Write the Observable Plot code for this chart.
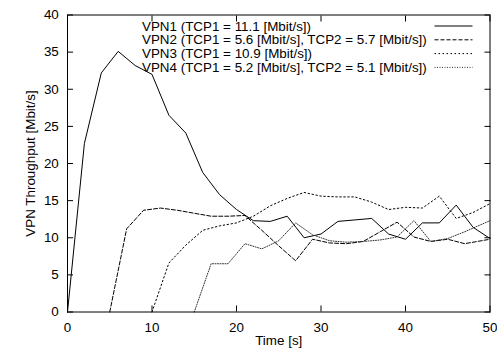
<!DOCTYPE html>
<html><head><meta charset="utf-8">
<script src="https://cdn.jsdelivr.net/npm/d3@7"></script>
<script src="https://cdn.jsdelivr.net/npm/@observablehq/plot@0.6"></script>
<style>
html,body{margin:0;padding:0;background:#fff;}
#chart svg{display:block;}
</style></head><body><div id="chart"></div>
<script>
// ---- data ----
const vpn1Time = [0,2,4,6,8,10,12,14,16,18,20,22,24,26,28,30,32,34,36,38,40,42,44,46,48,50];
const vpn1Rate = [0,22.7,32.2,35.1,33.2,32.0,26.5,24.1,18.8,15.8,13.8,12.3,12.2,12.9,10.0,10.5,12.2,12.4,12.6,10.5,9.8,12.0,12.0,14.4,11.4,9.9];

const vpn2Time = [5,7,9,11,13,15,17,19,21,23,25,27,29,31,33,35,37,39,41,43,45,47,50];
const vpn2Rate = [0,11.2,13.7,14.0,13.7,13.3,12.9,12.9,13.0,11.0,8.9,6.9,9.8,9.3,9.2,9.5,10.8,12.1,10.1,9.5,9.8,9.2,9.8];

const vpn3Time = [10,12,14,16,18,20,22,24,26,28,30,32,34,36,38,40,42,44,46,48,50];
const vpn3Rate = [0,6.6,9.0,11.0,11.6,12.0,12.9,14.3,15.3,16.1,15.6,15.5,15.5,14.8,13.8,14.1,14.0,15.6,12.6,13.4,14.6];

const vpn4Time = [15,17,19,21,23,25,27,29,31,33,35,37,39,41,43,45,47,50];
const vpn4Rate = [0,6.5,6.5,9.2,8.5,9.6,12.0,10.4,9.6,9.4,9.5,9.7,10.1,12.3,9.5,9.9,10.8,12.3];

const seriesNames = [
  "VPN1 (TCP1 = 11.1 [Mbit/s])",
  "VPN2 (TCP1 = 5.6 [Mbit/s], TCP2 = 5.7 [Mbit/s])",
  "VPN3 (TCP1 = 10.9 [Mbit/s])",
  "VPN4 (TCP1 = 5.2 [Mbit/s], TCP2 = 5.1 [Mbit/s])"
];
const xTicks = [0,10,20,30,40,50];
const yTicks = [0,5,10,15,20,25,30,35,40];
const xLabel = "Time [s]";
const yLabel = "VPN Throughput [Mbit/s]";

// ---- styles ----
const FONT = "'Liberation Sans', Arial, Helvetica, sans-serif";
const FONT_SIZE = 13.4;
const lineStyles = [
  {stroke: "#000", dash: null},
  {stroke: "#000", dash: "4,2"},
  {stroke: "#000", dash: "1.5,2.5"},
  {stroke: "#333", dash: "1,1.5"}
];

const times = [vpn1Time, vpn2Time, vpn3Time, vpn4Time];
const rates = [vpn1Rate, vpn2Rate, vpn3Rate, vpn4Rate];
const rows = times.flatMap((ts, s) => ts.map((t, i) => ({s, t, v: rates[s][i]})));

function legendMark(index, scales, values, dims) {
  const g = d3.create("svg:g")
    .attr("font-family", FONT).attr("font-size", FONT_SIZE).attr("fill", "#000")
    .attr("text-anchor", "start");
  const tx = dims.marginLeft + 75;
  const lx1 = dims.width - dims.marginRight - 55;
  const lx2 = dims.width - dims.marginRight - 17;
  seriesNames.forEach((name, i) => {
    const y = dims.marginTop + 11.5 + i * 13.8;
    g.append("text").attr("x", tx).attr("y", y).attr("dy", "0.35em").text(name);
    const ln = g.append("line").attr("x1", lx1).attr("x2", lx2).attr("y1", y).attr("y2", y)
      .attr("stroke", lineStyles[i].stroke).attr("stroke-width", 1);
    if (lineStyles[i].dash) ln.attr("stroke-dasharray", lineStyles[i].dash);
  });
  return g.node();
}

const chart = Plot.plot({
  width: 497,
  height: 354,
  marginLeft: 67,
  marginRight: 7.5,
  marginTop: 14.5,
  marginBottom: 42.5,
  style: {fontFamily: FONT, fontSize: FONT_SIZE + "px", color: "#000", background: "#fff"},
  x: {domain: [0, 50]},
  y: {domain: [0, 40]},
  marks: [
    ...lineStyles.map((st, k) => Plot.line(rows, {
      filter: d => d.s === k, x: "t", y: "v",
      stroke: st.stroke, strokeWidth: 1, strokeDasharray: st.dash ?? undefined
    })),
    Plot.axisX({ticks: xTicks, anchor: "bottom", tickSize: 0, tickPadding: 10, label: null}),
    Plot.axisX({ticks: xTicks, anchor: "bottom", tickSize: 6, dy: -6, tickFormat: () => "", label: null}),
    Plot.axisX({ticks: xTicks, anchor: "top", tickSize: 6, dy: 6, tickFormat: () => "", label: null}),
    Plot.axisY({ticks: yTicks, anchor: "left", tickSize: 0, tickPadding: 8.7, label: null}),
    Plot.axisY({ticks: yTicks, anchor: "left", tickSize: 6, dx: 6, tickFormat: () => "", label: null}),
    Plot.axisY({ticks: yTicks, anchor: "right", tickSize: 6, dx: -6, tickFormat: () => "", label: null}),
    Plot.frame({stroke: "#000", strokeWidth: 1}),
    Plot.text([xLabel], {frameAnchor: "bottom", dy: 33, fill: "#000", textAnchor: "middle"}),
    Plot.text([yLabel], {frameAnchor: "left", dx: -37, rotate: -90, fill: "#000", textAnchor: "middle"}),
    legendMark
  ]
});
document.getElementById("chart").appendChild(chart);
</script>
</body></html>
